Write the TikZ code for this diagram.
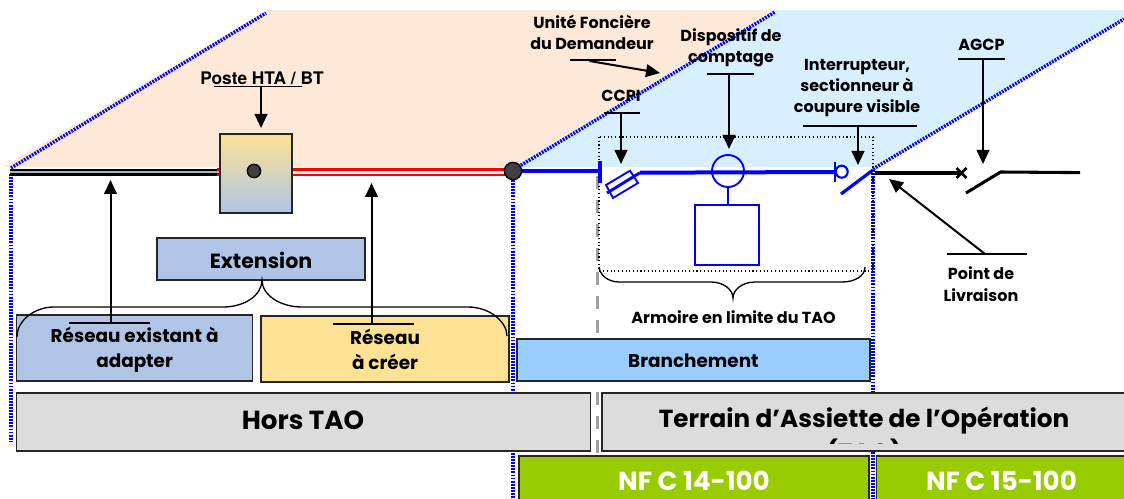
\documentclass[tikz,border=0pt]{standalone}
\usepackage{fontspec}
\setmainfont{Poppins}
\newfontfamily\arialf{TeX Gyre Heros}
\usetikzlibrary{arrows.meta}
\definecolor{peach}{HTML}{FEE9D8}
\definecolor{skyb}{HTML}{D7EFFF}
\definecolor{steelb}{HTML}{B0C4E6}
\definecolor{sandy}{HTML}{FDE296}
\definecolor{branch}{HTML}{99CCFF}
\definecolor{greyb}{HTML}{DCDCDC}
\definecolor{nfgreen}{HTML}{99CC00}
\definecolor{wireb}{HTML}{0000FF}
\newcommand{\fsz}[2]{\fontsize{#1}{#2}\selectfont\bfseries}
\tikzset{
  x=0.75pt,y=-0.75pt,
  limit/.style={draw=wireb,line width=2.6pt,dash pattern=on 1.4pt off 0.9pt},
  wire/.style={draw=wireb,line width=3pt},
  thinwire/.style={draw=wireb,line width=1.4pt},
  feed/.style={draw=black,line width=2.3pt},
  ptr/.style={draw=black,line width=1.5pt,-{Triangle[width=9.5pt,length=10.5pt]}},
  ul/.style={draw=black,line width=1pt},
  bracec/.style={draw=black,line width=1pt},
  boxn/.style={draw=black!85,line width=1pt,anchor=north west,inner sep=0pt,outer sep=0pt},
  lab/.style={align=center,inner sep=0pt,font=\fsz{12}{16}},
  lab2/.style={align=center,inner sep=0pt,font=\fsz{13.8}{18.7}},
  big/.style={align=center,inner sep=0pt,font=\fsz{19.6}{24}},
  hub/.style={circle,draw=black,fill=black!75,line width=1pt,minimum size=13pt,inner sep=0pt},
}
\begin{document}
\begin{tikzpicture}
\useasboundingbox (0,0) rectangle (1124,499);
% sectors
\fill[peach] (3,167) -- (268,10) -- (775,10) -- (513,167) -- cycle;
\fill[skyb] (513,167) -- (775,10) -- (1124,10) -- (1124,18) -- (875,167) -- cycle;
% limits
\coordinate (la) at (11,168); \coordinate (lb) at (266,13);
\coordinate (lc) at (513,170); \coordinate (ld) at (775,12);
\coordinate (le) at (873,169); \coordinate (lf) at (1124,19);
\draw[limit] (la) -- (lb);
\draw[limit] (lc) -- (ld);
\draw[limit] (le) -- (lf);
\coordinate (va) at (11,174); \coordinate (vb) at (11,442);
\coordinate (vc) at (513,174); \coordinate (vd) at (513,499);
\coordinate (ve) at (873,170); \coordinate (vf) at (873,499);
\draw[limit] (va) -- (vb);
\draw[limit] (vc) -- (vd);
\draw[limit] (ve) -- (vf);
% cabinet outline and dashed boundary
\coordinate (ga) at (597.5,176); \coordinate (gb) at (597.5,456);
\draw[draw=black!38,line width=2.4pt,dash pattern=on 10pt off 8pt] (ga) -- (gb);
\draw[draw=black,line width=0.8pt,dotted] (599,137) rectangle (873,271);
% network lines
\coordinate (na) at (10,170); \coordinate (nb) at (219,170);
\coordinate (nc) at (10,174.5); \coordinate (nd) at (219,174.5);
\fill[black!30] (10,170) rectangle (219,174.5);
\draw[draw=black,line width=1.6pt] (na) -- (nb);
\draw[draw=black,line width=1.6pt] (nc) -- (nd);
\coordinate (ra) at (217,169.5); \coordinate (rb) at (510,169.5);
\coordinate (rc) at (217,175); \coordinate (rd) at (510,175);
\draw[draw=red,line width=2.2pt] (ra) -- (rb);
\draw[draw=red,line width=2.2pt] (rc) -- (rd);
% substation
\node[boxn,minimum width=54pt,minimum height=59.25pt,top color=sandy,bottom color=steelb] (poste) at (220,134) {};
\node[hub,minimum size=10pt] (postedot) at (254,171) {};
% branch wire
\node[hub] (junction) at (513,171) {};
\coordinate (barA) at (600,161); \coordinate (barB) at (600,183);
\draw[wire] (junction) -- (600,171);
\draw[wire,line width=2.4pt] (barA) -- (barB);
\coordinate (fa) at (607,193); \coordinate (fb) at (640,172.7);
\draw[wire,line width=2.2pt] (fa) -- (fb);
\draw[thinwire] (630,170.7) -- (638,183) -- (613,198) -- (606,185) -- cycle;
\node[circle,draw=wireb,line width=1.4pt,minimum size=24pt,inner sep=0pt] (meter) at (728,171) {};
\node[boxn,draw=wireb,line width=1.4pt,minimum width=48pt,minimum height=45pt] (cabinet) at (695,205) {};
\draw[thinwire] (meter) -- (cabinet.north -| meter);
\coordinate (ma) at (640,172.7); \coordinate (mb) at (835,172);
\draw[wire] (ma) -- (mb);
\coordinate (ia) at (835,162); \coordinate (ib) at (835,182);
\draw[wire,line width=2.2pt] (ia) -- (ib);
\node[circle,draw=wireb,line width=1.6pt,minimum size=9pt,inner sep=0pt] (sw) at (841.7,171.7) {};
\coordinate (sa) at (841,194); \coordinate (sb) at (873,170);
\draw[wire,line width=2.4pt] (sa) -- (sb);
% customer side
\coordinate (ka) at (875,173); \coordinate (kb) at (961,173);
\draw[feed] (ka) -- (kb);
\draw[draw=black,line width=2pt] (956.5,168) -- (966.5,178) (956.5,178) -- (966.5,168);
\coordinate (ke) at (966,193); \coordinate (kf) at (1000.6,172); \coordinate (kg) at (1080,172.6);
\draw[feed] (ke) -- (kf) -- (kg);
% boxes
\node[boxn,fill=steelb,minimum width=156pt,minimum height=31.5pt] (ext) at (157,238) {};
\node[lab2,font=\fsz{15.4}{18}] (exttxt) at (261,260) {Extension};
\node[boxn,fill=steelb,minimum width=177pt,minimum height=49.5pt] (exist) at (16.4,315) {};
\node[boxn,fill=sandy,line width=1.4pt,minimum width=186pt,minimum height=49.5pt] (creer) at (260.7,316) {};
\node[boxn,fill=branch,minimum width=264.75pt,minimum height=31.5pt] (bran) at (517,339) {};
\node[boxn,fill=greyb,minimum width=430.5pt,minimum height=43.5pt] (hors) at (16.4,393) {};
\node[boxn,fill=greyb,minimum width=400pt,minimum height=43.5pt] (terr) at (602,393) {};
\node[boxn,fill=nfgreen,minimum width=262.5pt,minimum height=40pt] (nfa) at (519,456) {};
\node[boxn,fill=nfgreen,minimum width=250pt,minimum height=40pt] (nfb) at (876.4,456) {};
% braces
\draw[bracec] (17,337) .. controls (17,320) and (35,307) .. (54,307) -- (223,307) .. controls (245,307) and (262,295) .. (262,280) .. controls (262,295) and (280,307) .. (302,307) -- (468,307) .. controls (490,307) and (507,322) .. (507,336);
\draw[bracec] (599,267) .. controls (600,275) and (608,282) .. (619,282) -- (711,282) .. controls (724,282) and (733,290) .. (733,298) .. controls (733,290) and (742,282) .. (755,282) -- (842,282) .. controls (855,282) and (865,276) .. (865,267);
% pointers
\coordinate (u1a) at (69,323); \coordinate (u1b) at (150,323);
\coordinate (p1a) at (110.5,323); \coordinate (p1b) at (110.5,180);
\draw[ul] (u1a) -- (u1b);
\draw[ptr] (p1a) -- (p1b);
\coordinate (u2a) at (333,324); \coordinate (u2b) at (413.6,324);
\coordinate (p2a) at (371.5,324); \coordinate (p2b) at (371.5,183);
\draw[ul] (u2a) -- (u2b);
\draw[ptr] (p2a) -- (p2b);
\coordinate (u3a) at (214,86.7); \coordinate (u3b) at (302,86.7);
\coordinate (p3a) at (261,87); \coordinate (p3b) at (261,128);
\draw[ul] (u3a) -- (u3b);
\draw[ptr] (p3a) -- (p3b);
\coordinate (u4a) at (570,60); \coordinate (u4b) at (616,60);
\coordinate (p4a) at (589.5,61); \coordinate (p4b) at (660,73);
\draw[ul] (u4a) -- (u4b);
\draw[ptr] (p4a) -- (p4b);
\coordinate (u5a) at (707,74); \coordinate (u5b) at (754,74);
\coordinate (p5a) at (729,74); \coordinate (p5b) at (729,149);
\draw[ul] (u5a) -- (u5b);
\draw[ptr] (p5a) -- (p5b);
\coordinate (u6a) at (604,113); \coordinate (u6b) at (640,113);
\coordinate (p6a) at (621,113); \coordinate (p6b) at (621,164);
\draw[ul] (u6a) -- (u6b);
\draw[ptr] (p6a) -- (p6b);
\coordinate (u7a) at (803,126); \coordinate (u7b) at (916.6,126);
\coordinate (p7a) at (858,126); \coordinate (p7b) at (858,165);
\draw[ul] (u7a) -- (u7b);
\draw[ptr] (p7a) -- (p7b);
\coordinate (u8a) at (958.4,59); \coordinate (u8b) at (1005,59);
\coordinate (p8a) at (983,59); \coordinate (p8b) at (983,164);
\draw[ul] (u8a) -- (u8b);
\draw[ptr] (p8a) -- (p8b);
\coordinate (u9a) at (946.5,254); \coordinate (u9b) at (1026.5,254);
\coordinate (p9a) at (985,254); \coordinate (p9b) at (889,179);
\draw[ul] (u9a) -- (u9b);
\draw[ptr] (p9a) -- (p9b);
% labels
\node[lab,font=\arialf\fontsize{13}{14}\selectfont\bfseries] (tposte) at (262,78) {Poste HTA / BT};
\node[lab] (tunite) at (592,32.5) {Unité Foncière\\du Demandeur};
\node[lab] (tdisp) at (731,48) {Dispositif de\\comptage};
\node[lab] (tccpi) at (621,96) {CCPI};
\node[lab] (tint) at (857,88) {Interrupteur,\\sectionneur à\\coupure visible};
\node[lab] (tagcp) at (981.5,45) {AGCP};
\node[lab] (tpoint) at (981,284) {Point de\\Livraison};
\node[lab] (tarm) at (733.6,317) {Armoire en limite du TAO};
\node[lab2] (tbran) at (693.4,361) {Branchement};
\node[lab2] (texist) at (134.6,349.5) {Réseau existant à\\adapter};
\node[lab2] (tcreer) at (385,349.5) {Réseau\\à créer};
\node[big] (thors) at (303,420) {Hors TAO};
\node[big,font=\fsz{18.5}{24}] (tterr) at (864,420) {Terrain d’Assiette de l’Opération};
\begin{scope}
\clip (820,430) rectangle (910,443);
\node[big,font=\fsz{18.5}{24}] (ttao) at (864,452.8) {(TAO)};
\end{scope}
\node[big,text=white] (tnfa) at (694,481) {NF C 14-100};
\node[big,text=white] (tnfb) at (1001.4,481) {NF C 15-100};
\end{tikzpicture}
\end{document}
